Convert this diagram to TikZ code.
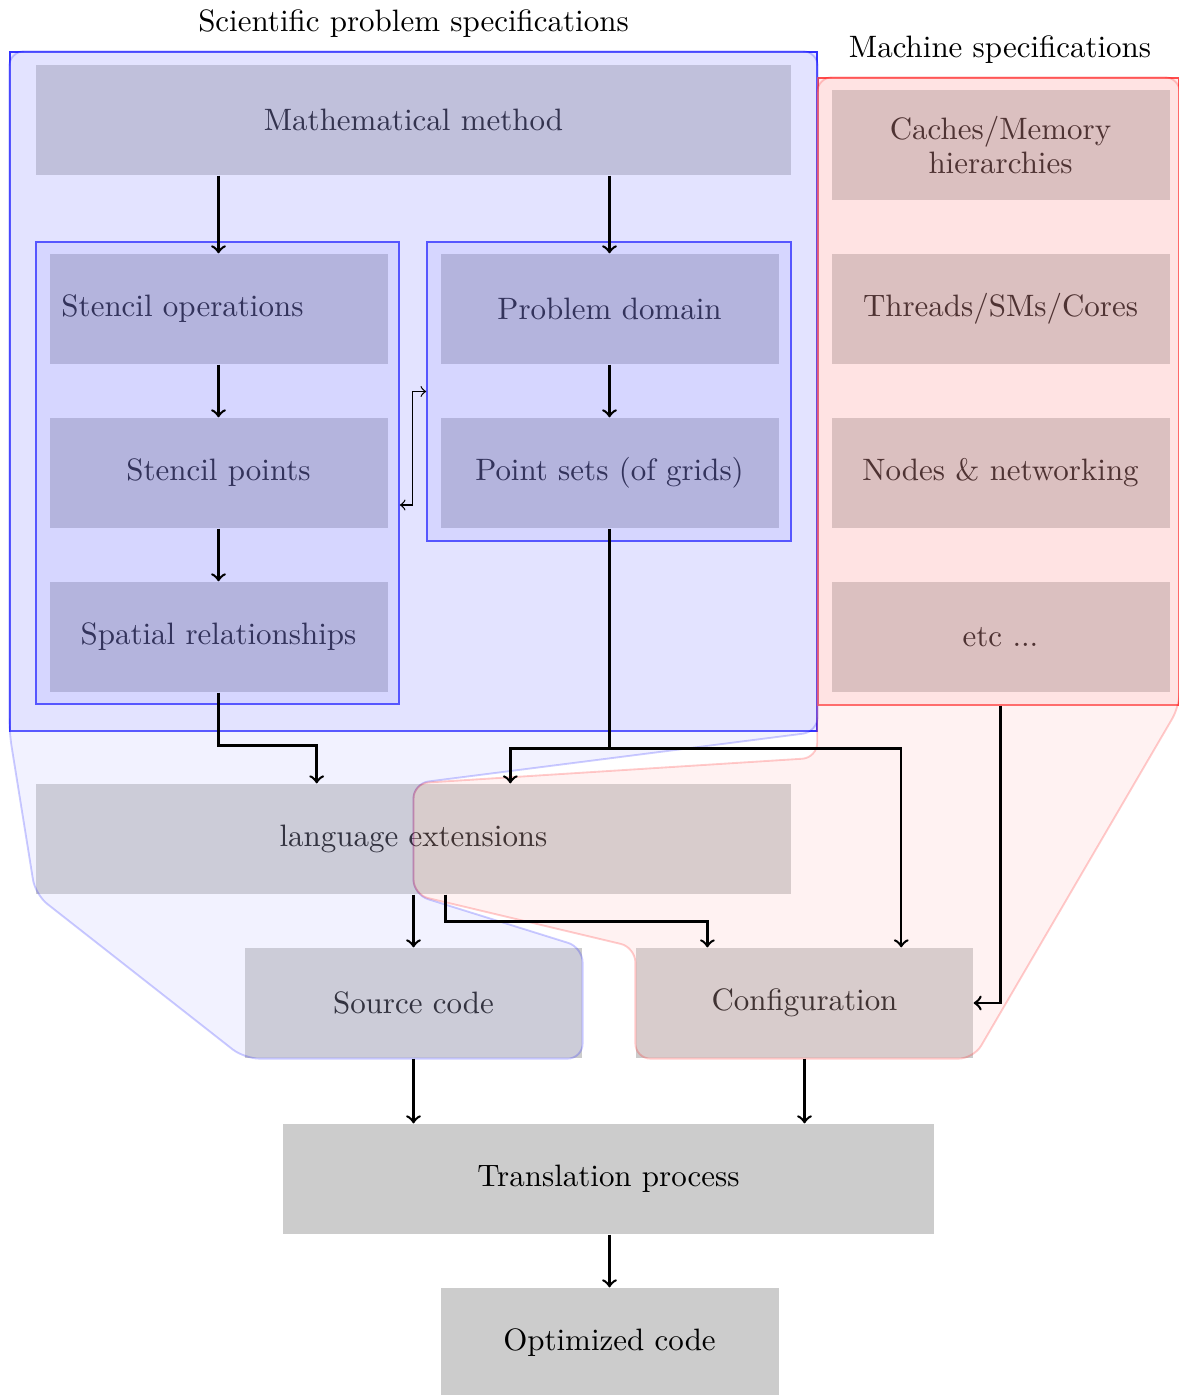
\documentclass[tikz,border=0pt]{standalone}
\usetikzlibrary{calc}
\newcommand\pxl[1]{#1*0.323pt}
\begin{document}
\begin{tikzpicture}[x=0.323pt,y=-0.323pt,
  gn/.style={fill=black!20, inner sep=0pt, align=center,
    minimum width=\pxl{338}, minimum height=\pxl{110}},
  bbox/.style={fill=blue, fill opacity=0.08, draw=blue!80, draw opacity=1, line width=0.5pt, inner sep=0pt},
  ibox/.style={fill=blue, fill opacity=0.075, draw=blue!80, draw opacity=1, line width=0.5pt, inner sep=0pt},
  rbox/.style={fill=red, fill opacity=0.08, draw=red!70, draw opacity=1, line width=0.5pt, inner sep=0pt},
  bpoly/.style={fill=blue!20, fill opacity=0.25, draw=blue, draw opacity=0.2, line width=0.6pt, rounded corners=\pxl{15}},
  rpoly/.style={fill=red!20, fill opacity=0.25, draw=red, draw opacity=0.2, line width=0.6pt, rounded corners=\pxl{15}},
  arr/.style={thick,->},
  tarr/.style={thin,<->}]
\useasboundingbox (0,0) rectangle (1179,1395);

% gray nodes
\node[gn, minimum width=\pxl{755}] (math) at (413.5,120) {Mathematical method};
\node[gn, text width=\pxl{314}, align=left] (sops) at (218.5,309) {Stencil operations};
\node[gn] (spts) at (218.5,473) {Stencil points};
\node[gn] (spat) at (218.5,637) {Spatial relationships};
\node[gn] (pdom) at (609.5,309) {Problem domain};
\node[gn] (pset) at (609.5,473) {Point sets (of grids)};
\node[gn] (cache) at (1000.5,145) {Caches/Memory\\[-1.3pt]hierarchies};
\node[gn] (thr) at (1000.5,309) {Threads/SMs/Cores};
\node[gn] (netw) at (1000.5,473) {Nodes \& networking};
\node[gn] (etc) at (1000.5,637) {etc ...};
\node[gn, minimum width=\pxl{755}] (lang) at (413.5,839) {language extensions};
\node[gn, minimum width=\pxl{337}] (src) at (413.5,1003) {Source code};
\node[gn, minimum width=\pxl{337}] (conf) at (804.5,1003) {Configuration};
\node[gn, minimum width=\pxl{651}] (trans) at (608.5,1179) {Translation process};
\node[gn] (opt) at (609.5,1343) {Optimized code};

% group boxes
\node[ibox, minimum width=\pxl{363}, minimum height=\pxl{462}] (sgrp) at (217.5,473) {};
\node[ibox, minimum width=\pxl{364}, minimum height=\pxl{299}] (pgrp) at (609,391.5) {};
\node[bbox, minimum width=\pxl{807}, minimum height=\pxl{679}] (sci) at (413.5,391.5) {};
\node[rbox, minimum width=\pxl{361}, minimum height=\pxl{627}] (mach) at (998.5,391.5) {};

% overlay polygons
\path[bpoly] (sci.north west) -- (sci.north east) -- (sci.south east) -- (lang.north) -- (lang.south)
  -- (src.north east) -- (src.south east) -- (src.south west) -- (lang.south west) -- (sci.south west) -- cycle;
\path[rpoly] (mach.north west) -- (mach.north east) -- (mach.south east) -- (conf.south east) -- (conf.south west)
  -- (conf.north west) -- (lang.south) -- (lang.north) -- ($(mach.south west)+(0,52)$) -- (mach.south west) -- cycle;

% titles
\node (scit) at (413.5,24) {Scientific problem specifications};
\node (macht) at (1000,50) {Machine specifications};

% arrows
\draw[arr] (sops.north |- math.south) -- (sops.north);
\draw[arr] (pdom.north |- math.south) -- (pdom.north);
\draw[arr] (sops.south) -- (spts.north);
\draw[arr] (spts.south) -- (spat.north);
\draw[arr] (pdom.south) -- (pset.north);
\draw[tarr] (pgrp.west) -- ++(-14,0) |- ($(sgrp.east)+(0,32)$);
\draw[arr] (spat.south) -- ++(0,53) -| ($(lang.north west)!0.372!(lang.north east)$);
\coordinate (br) at ($(pset.south)+(0,220)$);
\draw[arr] (pset.south) -- (br) -| ($(lang.north west)!0.628!(lang.north east)$);
\draw[arr] (br) -| ($(conf.north west)!0.786!(conf.north east)$);
\draw[arr] (cache.south |- mach.south) |- (conf.east);
\draw[arr] (lang.south) -- (src.north);
\draw[arr] ($(lang.south)+(32,0)$) -- ++(0,27) -| ($(conf.north west)+(72,0)$);
\draw[arr] (src.south) -- (src.south |- trans.north);
\draw[arr] (conf.south) -- (conf.south |- trans.north);
\draw[arr] (opt.north |- trans.south) -- (opt.north);
\end{tikzpicture}
\end{document}
